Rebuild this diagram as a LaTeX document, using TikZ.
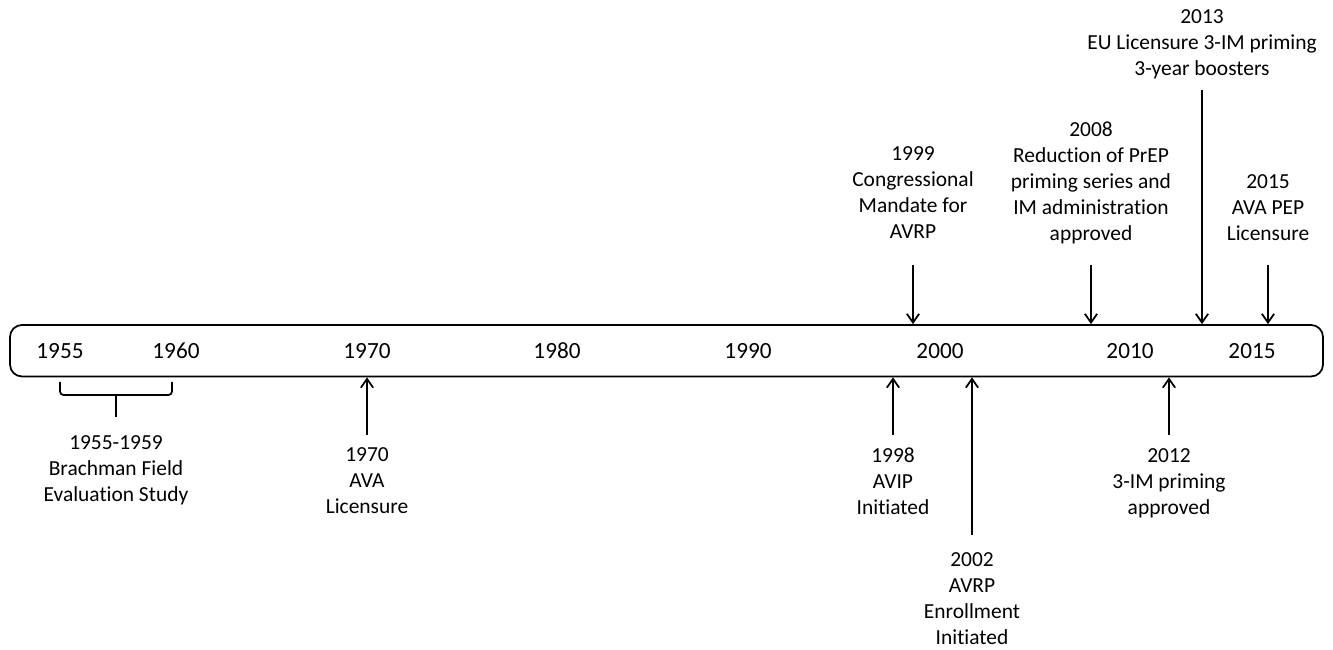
\documentclass[tikz,border=0pt]{standalone}
\usepackage{fontspec}
\setmainfont{Carlito}[Ligatures=NoCommon]
\usetikzlibrary{arrows.meta}

\tikzset{
  year/.style={font=\fontsize{13.2}{14.8}\selectfont},
  event/.style={align=center, inner sep=0pt, anchor=north, font=\fontsize{12.2}{14.8}\selectfont},
  pointer/.style={line width=1pt, -{Straight Barb[length=5pt,width=7pt]}}
}

\begin{document}
\begin{tikzpicture}
  \useasboundingbox (0,0) rectangle (26.66,13);
  % the time bar
  \node [draw, line width=1pt, rounded corners=0.24cm, minimum width=26.26cm,
         minimum height=1.03cm, inner sep=0pt] (bar) at (13.33,5.985) {};
  \foreach \yr/\x in {1955/1.2, 1960/3.52, 1970/7.34, 1980/11.14,
                      1990/14.96, 2000/18.8, 2010/22.6, 2015/25.04}
    \node [year] (y\yr) at (\x,5.985) {\yr};

  % 1955-1959 bracket
  \draw [line width=1pt, rounded corners=2pt]
    (1.2,5.36) -- (1.2,5.1) -- (3.44,5.1) -- (3.44,5.36);
  \draw [line width=1pt] (2.32,5.1) coordinate (brk) -- (2.32,4.66);
  \node [event] (e1955) at (2.32,4.29) {1955-1959\\Brachman Field\\Evaluation Study};

  % events below the bar
  \node [event] (e1970) at (7.34,4.05) {1970\\AVA\\Licensure};
  \node [event] (e1998) at (17.86,4.05) {1998\\AVIP\\Initiated};
  \node [event] (e2002) at (19.44,1.95) {2002\\AVRP\\Enrollment\\Initiated};
  \node [event] (e2012) at (23.38,4.03) {2012\\3-IM priming\\approved};
  \coordinate (t1970) at (7.34,4.3);
  \coordinate (t1998) at (17.86,4.3);
  \coordinate (t2002) at (19.44,2.3);
  \coordinate (t2012) at (23.38,4.3);
  \foreach \t in {t1970, t1998, t2002, t2012}
    \draw [pointer] (\t) -- (\t |- bar.south);

  % events above the bar
  \node [event] (e1999) at (18.26,10.07) {1999\\Congressional\\Mandate for\\AVRP};
  \node [event] (e2008) at (21.82,10.57) {2008\\Reduction of PrEP\\priming series and\\IM administration\\approved};
  \node [event] (e2013) at (24.04,12.81) {2013\\EU Licensure 3-IM priming\\3-year boosters};
  \node [event] (e2015) at (25.36,9.51) {2015\\AVA PEP\\Licensure};
  \coordinate (t1999) at (18.26,7.7);
  \coordinate (t2008) at (21.82,7.7);
  \coordinate (t2013) at (24.04,11.2);
  \coordinate (t2015) at (25.36,7.7);
  \foreach \t in {t1999, t2008, t2013, t2015}
    \draw [pointer] (\t) -- (\t |- bar.north);
\end{tikzpicture}
\end{document}
